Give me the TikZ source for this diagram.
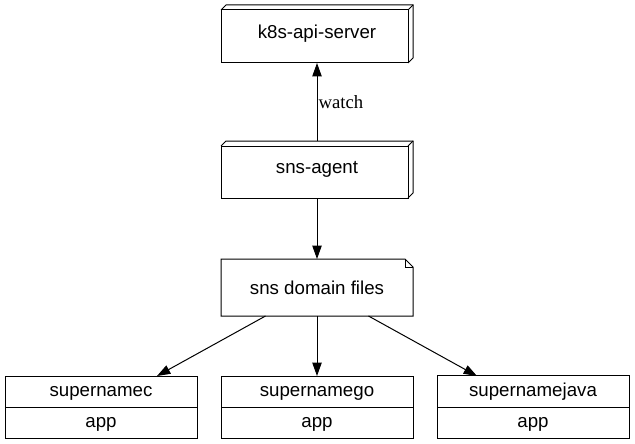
\documentclass[tikz,border=0pt]{standalone}
\usepackage{fontspec}
\setmainfont{Liberation Sans}
\newfontfamily\labelserif{Liberation Serif}
\usetikzlibrary{arrows.meta}
\usetikzlibrary{shapes.multipart}

\newcommand{\cellstrut}{\rule[-4.5pt]{0pt}{18pt}}
% outline of a box3d node (front face plus depth)
\newcommand{\depthbox}[1]{
\draw (#1.south west) -- ([yshift=-5pt]#1.north west) -- ([shift={(-5pt,-5pt)}]#1.north east) -- ([xshift=-5pt]#1.south east) -- cycle;
\draw ([yshift=-5pt]#1.north west) -- ([xshift=5pt]#1.north west) -- (#1.north east) -- ([yshift=5pt]#1.south east) -- ([xshift=-5pt]#1.south east);
\draw ([shift={(-5pt,-5pt)}]#1.north east) -- (#1.north east);
}
% outline of a note node (folded corner)
\newcommand{\notebox}[1]{
\draw (#1.north west) -- ([xshift=-8pt]#1.north east) -- ([yshift=-8pt]#1.north east) -- (#1.south east) -- (#1.south west) -- cycle;
\draw ([xshift=-8pt]#1.north east) -- ([shift={(-8pt,-8pt)}]#1.north east) -- ([yshift=-8pt]#1.north east);
}

\begin{document}
\begin{tikzpicture}[x=1pt,y=-1pt,line width=1pt,
  every node/.style={font=\fontsize{18.7pt}{22pt}\selectfont},
  plainbox/.style={minimum width=192pt,inner sep=0pt,outer sep=0pt},
  appbox/.style={draw,rectangle split,rectangle split parts=2,minimum width=192pt,inner xsep=4pt,inner ysep=6pt,outer sep=0pt},
  edge/.style={-{Triangle[length=13.3pt,width=9.3pt]}}]
\useasboundingbox (0,0) rectangle (635,444);

\node[plainbox,minimum height=58pt] (apiserver) at (317,34) {k8s-api-server};
\depthbox{apiserver}
\node[plainbox,minimum height=57pt] (agent) at (317,169.5) {sns-agent};
\depthbox{agent}
\node[plainbox,minimum height=57pt] (domainfiles) at (317,287.5) {sns domain files};
\notebox{domainfiles}

\node[appbox] (supernamec) at (101,407) {\cellstrut supernamec \nodepart{two}\cellstrut app};
\node[appbox] (supernamego) at (317,407) {\cellstrut supernamego \nodepart{two}\cellstrut app};
\node[appbox] (supernamejava) at (533,407) {\cellstrut supernamejava \nodepart{two}\cellstrut app};

\draw[edge] (agent) -- node[anchor=west,inner sep=1pt,font=\fontsize{18.7pt}{22pt}\labelserif] {watch} (apiserver);
\draw[edge] (agent) -- (domainfiles);
\draw[edge] (domainfiles) -- (supernamec);
\draw[edge] (domainfiles) -- (supernamego);
\draw[edge] (domainfiles) -- (supernamejava);

\end{tikzpicture}
\end{document}
